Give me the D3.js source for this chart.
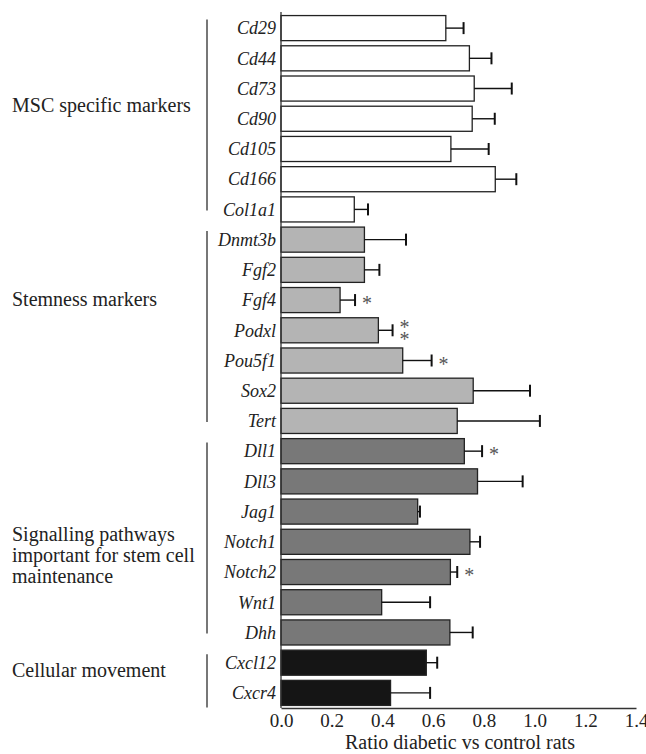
<!DOCTYPE html>
<html>
<head>
<meta charset="utf-8">
<script src="https://cdn.jsdelivr.net/npm/d3@7/dist/d3.min.js"></script>
<style>
  html, body { margin: 0; padding: 0; background: #fff; }
  svg { display: block; }
  text { font-family: "Liberation Serif", "Times New Roman", serif; fill: #222; }
</style>
</head>
<body>
<svg id="chart" width="646" height="754"></svg>
<script>
// ---- data ----
const genes = ["Cd29","Cd44","Cd73","Cd90","Cd105","Cd166","Col1a1",
  "Dnmt3b","Fgf2","Fgf4","Podxl","Pou5f1","Sox2","Tert",
  "Dll1","Dll3","Jag1","Notch1","Notch2","Wnt1","Dhh",
  "Cxcl12","Cxcr4"];
const groupOf = ["msc","msc","msc","msc","msc","msc","msc",
  "stem","stem","stem","stem","stem","stem","stem",
  "sig","sig","sig","sig","sig","sig","sig",
  "cell","cell"];
const ratio = [0.65,0.743,0.762,0.754,0.67,0.845,0.289,
  0.329,0.329,0.233,0.384,0.48,0.758,0.695,
  0.723,0.775,0.539,0.745,0.668,0.397,0.666,
  0.573,0.432];
const errorTop = [0.72,0.83,0.91,0.843,0.819,0.928,0.343,
  0.493,0.388,0.292,0.44,0.594,0.982,1.021,
  0.793,0.953,0.548,0.785,0.695,0.588,0.756,
  0.616,0.588];
const stars = [0,0,0,0,0,0,0,
  0,0,1,2,1,0,0,
  1,0,0,0,1,0,0,
  0,0];
const groupKeys = ["msc","stem","sig","cell"];
const groupLabels = [["MSC specific markers"],["Stemness markers"],
  ["Signalling pathways","important for stem cell","maintenance"],["Cellular movement"]];
const xTicks = [0,0.2,0.4,0.6,0.8,1.0,1.2,1.4];
const xTitle = "Ratio diabetic vs control rats";

// ---- layout ----
const fills = {msc:"#ffffff", stem:"#b4b4b4", sig:"#787878", cell:"#151515"};
const labelBaseline = {msc:112, stem:306, sig:541, cell:677};
const svg = d3.select("#chart");
const x = d3.scaleLinear().domain([0,1.4]).range([281,636]);
const y = d3.scaleBand().domain(genes).range([13,708]).paddingInner(0.17).paddingOuter(0.085);
const bw = y.bandwidth();
const rows = genes.map((g,i)=>({g, grp:groupOf[i], v:ratio[i], e:errorTop[i], s:stars[i]}));

// bars
svg.append("g").selectAll("rect").data(rows).join("rect")
  .attr("x", x(0)).attr("y", d=>y(d.g))
  .attr("width", d=>x(d.v)-x(0)).attr("height", bw)
  .attr("fill", d=>fills[d.grp]).attr("stroke","#222").attr("stroke-width",1.3);

// error bars
const eg = svg.append("g").attr("stroke","#111").attr("stroke-width",1.4);
rows.forEach(d=>{
  const cy = y(d.g)+bw/2;
  eg.append("line").attr("x1",x(d.v)).attr("x2",x(d.e)).attr("y1",cy).attr("y2",cy);
  eg.append("line").attr("x1",x(d.e)).attr("x2",x(d.e)).attr("y1",cy-6).attr("y2",cy+6).attr("stroke-width",2);
});

// significance stars (one text per bar; stacked with tspans)
rows.filter(d=>d.s>0).forEach(d=>{
  const cy = y(d.g)+bw/2;
  const t = svg.append("text").attr("x", x(d.e)+12).attr("y", cy+10+(d.s===1?0:-6))
    .attr("text-anchor","middle").attr("font-size",20).style("fill","#555");
  for (let k=0;k<d.s;k++) {
    t.append("tspan").attr("x", x(d.e)+12).attr("dy", k===0?0:12).text("*");
  }
});

// gene labels
svg.append("g").selectAll("text").data(rows).join("text")
  .attr("x",276).attr("y",d=>y(d.g)+bw/2).attr("dy","0.35em")
  .attr("text-anchor","end").attr("font-size",18).attr("font-style","italic").text(d=>d.g);

// axes
const xAxis = svg.append("g").attr("transform","translate(0,708)")
  .call(d3.axisBottom(x).tickValues(xTicks).tickFormat(d3.format(".1f")).tickSize(0).tickPadding(6).tickSizeOuter(0));
xAxis.select(".domain").attr("stroke","#333").attr("stroke-width",1.3);
xAxis.selectAll("text").attr("font-size",19).style("font-family","Liberation Serif, serif").style("fill","#222");
svg.append("line").attr("x1",281).attr("x2",281).attr("y1",12).attr("y2",708).attr("stroke","#333").attr("stroke-width",1.3);

svg.append("text").attr("x",460).attr("y",749).attr("text-anchor","middle").attr("font-size",20).text(xTitle);

// group brackets and labels
groupKeys.forEach((k,gi)=>{
  const members = rows.filter(d=>d.grp===k);
  const first = members[0].g, last = members[members.length-1].g;
  const y1 = y(first)+4;
  const y2 = k==="cell" ? y(last)+bw+2 : y(last)+bw/2+1;
  svg.append("line").attr("x1",207).attr("x2",207).attr("y1",y1).attr("y2",y2)
    .attr("stroke","#555").attr("stroke-width",1.6);
  const t = svg.append("text").attr("x",12).attr("y",labelBaseline[k]).attr("font-size",20);
  groupLabels[gi].forEach((line,li)=>{
    t.append("tspan").attr("x",12).attr("dy", li===0?0:21).text(line);
  });
});
</script>
</body>
</html>
